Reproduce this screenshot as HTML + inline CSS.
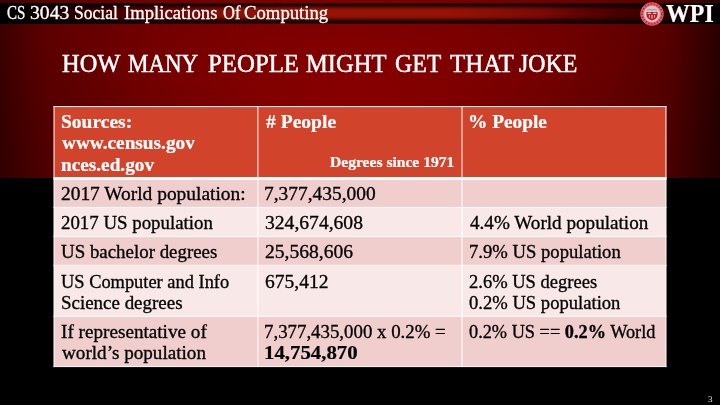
<!DOCTYPE html>
<html><head><meta charset="utf-8">
<style>
html,body{margin:0;padding:0;background:#000;}
body{width:720px;height:405px;position:relative;overflow:hidden;font-family:"Liberation Serif",serif;}
#bg{position:absolute;left:0;top:0;width:720px;height:178px;
 background:radial-gradient(ellipse 330px 95px at 355px 0px,rgba(0,0,0,.14) 0%,rgba(0,0,0,.11) 35%,rgba(0,0,0,0) 100%),linear-gradient(to bottom,rgba(0,0,0,0) 40px,rgba(0,0,0,.16) 178px),linear-gradient(to right,#3a0000 0px,#4e0000 25px,#5c0000 46px,#6a0000 100px,#780000 150px,#800000 200px,#880000 250px,#8c0000 300px,#900000 350px,#8d0000 400px,#880000 450px,#800000 500px,#780000 550px,#6c0000 600px,#600000 640px,#580000 667px,#3a0000 700px,#2a0000 720px);}
#band{position:absolute;left:0;top:3px;width:720px;height:21px;
 background:linear-gradient(to right,#000 0%,#050000 3%,#200000 8%,#340000 12%,#4c0000 17%,#640302 22%,#7c0a05 28%,#8e1006 33%,#991305 40%,#991305 62%,#8e1006 67%,#7c0a05 75%,#640302 80%,#4e0000 85%,#3e0000 89%,#2c0000 93%,#100000 97%,#000 100%);}
#band:before{content:"";position:absolute;left:0;top:0;right:0;bottom:0;
 background:linear-gradient(to bottom,rgba(0,0,0,.5) 0%,rgba(0,0,0,.85) 5%,rgba(0,0,0,.8) 10%,rgba(0,0,0,.08) 29%,rgba(0,0,0,0) 40%,rgba(0,0,0,0) 56%,rgba(0,0,0,.1) 68%,rgba(0,0,0,.8) 87%,rgba(0,0,0,.85) 95%,rgba(0,0,0,.45) 100%);}
#seal{position:absolute;left:640px;top:1.5px;width:24px;height:24px;}
.t{position:absolute;white-space:nowrap;color:#000;transform-origin:0 0;}
#tbl{position:absolute;left:0;top:0;}
#pg{position:absolute;left:708px;top:394px;color:#e0e0e0;font-size:9px;line-height:10px;}
</style></head><body>
<div id="bg"></div>
<div id="band"></div>
<svg id="seal" viewBox="0 0 24 24"><circle cx="12" cy="12" r="11.7" fill="#dc5f6d"/><circle cx="12" cy="12" r="9.9" fill="none" stroke="#b8162c" stroke-width="1.7" stroke-dasharray="1.1 1.9"/><circle cx="12" cy="12" r="8.5" fill="#eda3ab"/><circle cx="12" cy="12" r="7.8" fill="#d9c5c5"/><path d="M6.800 7.700q2.600-1.700 5.200-.400q2.600-1.300 5.200.400l-.6 1q-2.300-1.200-4.600 0q-2.300-1.200-4.600 0z" fill="#9aa4a4"/><path d="M6.500 9.900h11v3q0 3.800-5.500 5.600q-5.500-1.800-5.500-5.600z" fill="#b3182b"/><path d="M7.700 10.800h3.200v1.100h-3.200zM13.100 10.800h3.200v1.100h-3.200z" fill="#f4d6d8"/><path d="M11.200 12.800h1.600v4h-1.600z" fill="#f57f8f"/><path d="M8.900 13h1v2.800h-1zM14.100 13h1v2.800h-1z" fill="#e8a0a8"/></svg>
<svg id="tbl" width="720" height="405" viewBox="0 0 720 405"><rect x="54" y="106.6" width="612" height="71.9" fill="#d2432c"/><rect x="54" y="178.5" width="612" height="28.9" fill="#efcecd"/><rect x="54" y="207.4" width="612" height="29.2" fill="#f8e8e8"/><rect x="54" y="236.6" width="612" height="28.7" fill="#efcecd"/><rect x="54" y="265.3" width="612" height="51.1" fill="#f8e8e8"/><rect x="54" y="316.4" width="612" height="50.2" fill="#efcecd"/><path d="M54 106.1V367.1M257.9 106.1V367.1M462 106.1V367.1M666 106.1V367.1M53.5 106.6H666.5M53.5 207.4H666.5M53.5 236.6H666.5M53.5 265.3H666.5M53.5 316.4H666.5M53.5 366.6H666.5" stroke="#fff" stroke-width="1" fill="none"/><path d="M53.5 178.5H666.5" stroke="#fff" stroke-width="3" fill="none"/></svg>
<div id="pg">3</div>
<span class="t" style="left:60.57px;top:110.92px;font-size:18px;line-height:22px;transform:scaleX(1.0833);color:#fff;font-weight:bold;-webkit-text-stroke:0.2px #fff;">Sources:</span>
<span class="t" style="left:61.60px;top:131.93px;font-size:18px;line-height:22px;transform:scaleX(1.0710);color:#fff;font-weight:bold;-webkit-text-stroke:0.2px #fff;">www.census.gov</span>
<span class="t" style="left:60.98px;top:153.93px;font-size:18px;line-height:22px;transform:scaleX(1.0693);color:#fff;font-weight:bold;-webkit-text-stroke:0.2px #fff;">nces.ed.gov</span>
<span class="t" style="left:265.90px;top:110.92px;font-size:18px;line-height:22px;transform:scaleX(1.0870);color:#fff;font-weight:bold;-webkit-text-stroke:0.2px #fff;"># People</span>
<span class="t" style="left:330.15px;top:153.78px;font-size:14px;line-height:17px;transform:scaleX(1.1128);color:#fff;font-weight:bold;-webkit-text-stroke:0.2px #fff;">Degrees since 1971</span>
<span class="t" style="left:467.69px;top:110.92px;font-size:18px;line-height:22px;transform:scaleX(1.0737);color:#fff;font-weight:bold;-webkit-text-stroke:0.2px #fff;">% People</span>
<span class="t" style="left:60.74px;top:182.93px;font-size:18px;line-height:22px;transform:scaleX(1.0780);-webkit-text-stroke:0.3px #000;">2017 World population:</span>
<span class="t" style="left:264.42px;top:182.93px;font-size:18px;line-height:22px;transform:scaleX(1.0784);-webkit-text-stroke:0.3px #000;">7,377,435,000</span>
<span class="t" style="left:60.77px;top:211.93px;font-size:18px;line-height:22px;transform:scaleX(1.0472);-webkit-text-stroke:0.3px #000;">2017 US population</span>
<span class="t" style="left:264.54px;top:211.93px;font-size:18px;line-height:22px;transform:scaleX(1.0885);-webkit-text-stroke:0.3px #000;">324,674,608</span>
<span class="t" style="left:469.70px;top:211.93px;font-size:18px;line-height:22px;transform:scaleX(1.0630);-webkit-text-stroke:0.3px #000;">4.4% World population</span>
<span class="t" style="left:60.90px;top:240.93px;font-size:18px;line-height:22px;transform:scaleX(1.0497);-webkit-text-stroke:0.3px #000;">US bachelor degrees</span>
<span class="t" style="left:264.64px;top:240.93px;font-size:18px;line-height:22px;transform:scaleX(1.0865);-webkit-text-stroke:0.3px #000;">25,568,606</span>
<span class="t" style="left:468.66px;top:240.93px;font-size:18px;line-height:22px;transform:scaleX(1.0357);-webkit-text-stroke:0.3px #000;">7.9% US population</span>
<span class="t" style="left:60.92px;top:270.93px;font-size:18px;line-height:22px;transform:scaleX(1.0224);-webkit-text-stroke:0.3px #000;">US Computer and Info</span>
<span class="t" style="left:60.55px;top:291.93px;font-size:18px;line-height:22px;transform:scaleX(1.0526);-webkit-text-stroke:0.3px #000;">Science degrees</span>
<span class="t" style="left:264.62px;top:270.93px;font-size:18px;line-height:22px;transform:scaleX(1.0850);-webkit-text-stroke:0.3px #000;">675,412</span>
<span class="t" style="left:468.88px;top:270.93px;font-size:18px;line-height:22px;transform:scaleX(1.0292);-webkit-text-stroke:0.3px #000;">2.6% US degrees</span>
<span class="t" style="left:468.97px;top:291.93px;font-size:18px;line-height:22px;transform:scaleX(1.0336);-webkit-text-stroke:0.3px #000;">0.2% US population</span>
<span class="t" style="left:60.73px;top:320.93px;font-size:18px;line-height:22px;transform:scaleX(1.0648);-webkit-text-stroke:0.3px #000;">If representative of</span>
<span class="t" style="left:61.60px;top:341.93px;font-size:18px;line-height:22px;transform:scaleX(1.0627);-webkit-text-stroke:0.3px #000;">world’s population</span>
<span class="t" style="left:264.45px;top:320.93px;font-size:18px;line-height:22px;transform:scaleX(1.0465);-webkit-text-stroke:0.3px #000;">7,377,435,000 x 0.2% =</span>
<span class="t" style="left:263.71px;top:341.93px;font-size:18px;line-height:22px;transform:scaleX(1.1559);font-weight:bold;-webkit-text-stroke:0.2px #000;">14,754,870</span>
<span class="t" style="left:468.98px;top:320.93px;font-size:18px;line-height:22px;transform:scaleX(1.0157);-webkit-text-stroke:0.3px #000;">0.2% US == <b>0.2%</b> World</span>
<span class="t" style="left:61.74px;top:47.73px;font-size:26px;line-height:31px;transform:scaleX(0.9397);color:#fff;-webkit-text-stroke:0.5px #fff;">HOW</span>
<span class="t" style="left:128.48px;top:47.73px;font-size:26px;line-height:31px;transform:scaleX(0.8838);color:#fff;-webkit-text-stroke:0.5px #fff;">MANY</span>
<span class="t" style="left:207.73px;top:47.73px;font-size:26px;line-height:31px;transform:scaleX(0.9547);color:#fff;-webkit-text-stroke:0.5px #fff;">PEOPLE</span>
<span class="t" style="left:306.23px;top:47.73px;font-size:26px;line-height:31px;transform:scaleX(0.9443);color:#fff;-webkit-text-stroke:0.5px #fff;">MIGHT</span>
<span class="t" style="left:394.89px;top:47.73px;font-size:26px;line-height:31px;transform:scaleX(0.9146);color:#fff;-webkit-text-stroke:0.5px #fff;">GET</span>
<span class="t" style="left:450.00px;top:47.73px;font-size:26px;line-height:31px;transform:scaleX(0.9591);color:#fff;-webkit-text-stroke:0.5px #fff;">THAT</span>
<span class="t" style="left:519.49px;top:47.73px;font-size:26px;line-height:31px;transform:scaleX(0.9185);color:#fff;-webkit-text-stroke:0.5px #fff;">JOKE</span>
<span class="t" style="left:7.36px;top:1.92px;font-size:18px;line-height:22px;transform:scaleX(0.8353);color:#fff;-webkit-text-stroke:0.3px #fff;">CS</span>
<span class="t" style="left:29.83px;top:1.92px;font-size:18px;line-height:22px;transform:scaleX(1.0914);color:#fff;-webkit-text-stroke:0.3px #fff;">3043</span>
<span class="t" style="left:73.52px;top:1.92px;font-size:18px;line-height:22px;transform:scaleX(0.9759);color:#fff;-webkit-text-stroke:0.3px #fff;">Social</span>
<span class="t" style="left:123.75px;top:1.92px;font-size:18px;line-height:22px;transform:scaleX(1.0384);color:#fff;-webkit-text-stroke:0.3px #fff;">Implications</span>
<span class="t" style="left:223.00px;top:1.92px;font-size:18px;line-height:22px;transform:scaleX(0.9156);color:#fff;-webkit-text-stroke:0.3px #fff;">Of</span>
<span class="t" style="left:243.80px;top:1.92px;font-size:18px;line-height:22px;transform:scaleX(1.0395);color:#fff;-webkit-text-stroke:0.3px #fff;">Computing</span>
<span class="t" style="left:665.60px;top:-1.27px;font-size:24.5px;line-height:29px;transform:scaleX(0.9729);color:#fff;font-weight:bold;-webkit-text-stroke:0.2px #fff;">WPI</span>
</body></html>
